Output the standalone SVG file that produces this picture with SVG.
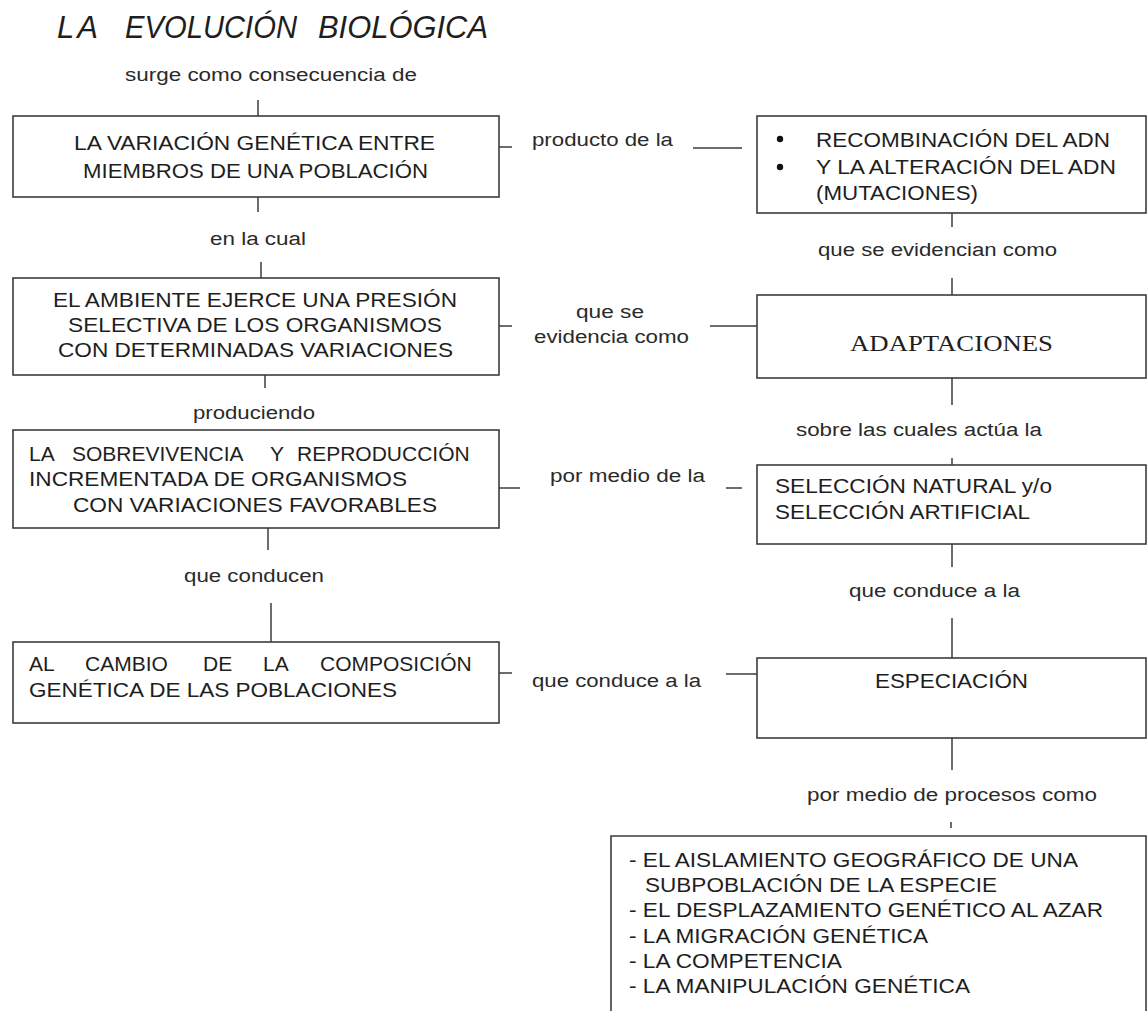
<svg xmlns="http://www.w3.org/2000/svg" width="1147" height="1011" viewBox="0 0 1147 1011">
<style>
.bg{fill:#ffffff}
.box{fill:#ffffff;stroke:#3c3c3c;stroke-width:1.6}
.con{fill:none;stroke:#3c3c3c;stroke-width:1.5}
.t{font-family:"Liberation Sans",Arial,sans-serif;font-size:21px;fill:#1e1e1e}
.lb{font-family:"Liberation Sans",Arial,sans-serif;font-size:18px;fill:#2a2a2a}
.li{font-family:"Liberation Sans",Arial,sans-serif;font-size:20px;fill:#1e1e1e}
.serif{font-family:"Liberation Serif","Times New Roman",serif;font-size:23px;fill:#1e1e1e}
.title{font-family:"Liberation Sans",Arial,sans-serif;font-size:31px;font-style:italic;fill:#1e1e1e}
</style>
<rect class="bg" x="0" y="0" width="1147" height="1011"/>

<g id="title">
<text class="title" y="38"><tspan x="57" letter-spacing="3">LA</tspan> <tspan x="125" textLength="172" lengthAdjust="spacingAndGlyphs">EVOLUCIÓN</tspan> <tspan x="318" textLength="170" lengthAdjust="spacingAndGlyphs">BIOLÓGICA</tspan></text>
</g>

<g id="connectors">
<line class="con" x1="258" y1="100" x2="258" y2="116"/>
<line class="con" x1="258" y1="197" x2="258" y2="212"/>
<line class="con" x1="261" y1="262" x2="261" y2="278"/>
<line class="con" x1="265" y1="375" x2="265" y2="388"/>
<line class="con" x1="268" y1="528" x2="268" y2="550"/>
<line class="con" x1="271" y1="603" x2="271" y2="642"/>
<line class="con" x1="499" y1="147" x2="512" y2="147"/>
<line class="con" x1="693" y1="148" x2="742" y2="148"/>
<line class="con" x1="499" y1="326" x2="512" y2="326"/>
<line class="con" x1="710" y1="326" x2="757" y2="326"/>
<line class="con" x1="499" y1="488" x2="520" y2="488"/>
<line class="con" x1="726" y1="488" x2="742" y2="488"/>
<line class="con" x1="499" y1="673" x2="512" y2="673"/>
<line class="con" x1="726" y1="674" x2="757" y2="674"/>
<line class="con" x1="952" y1="213" x2="952" y2="227"/>
<line class="con" x1="952" y1="278" x2="952" y2="295"/>
<line class="con" x1="952" y1="378" x2="952" y2="405"/>
<line class="con" x1="952" y1="458" x2="952" y2="465"/>
<line class="con" x1="952" y1="544" x2="952" y2="567"/>
<line class="con" x1="952" y1="618" x2="952" y2="658"/>
<line class="con" x1="952" y1="738" x2="952" y2="770"/>
<line class="con" x1="951" y1="822" x2="951" y2="828"/>
<text class="lb" x="125" y="81" textLength="292" lengthAdjust="spacingAndGlyphs">surge como consecuencia de</text>
<text class="lb" x="210" y="245" textLength="96" lengthAdjust="spacingAndGlyphs">en la cual</text>
<text class="lb" x="193" y="419" textLength="122" lengthAdjust="spacingAndGlyphs">produciendo</text>
<text class="lb" x="184" y="582" textLength="140" lengthAdjust="spacingAndGlyphs">que conducen</text>
<text class="lb" x="532" y="146" textLength="141" lengthAdjust="spacingAndGlyphs">producto de la</text>
<text class="lb" x="576" y="318" textLength="68" lengthAdjust="spacingAndGlyphs">que se</text>
<text class="lb" x="534" y="343" textLength="155" lengthAdjust="spacingAndGlyphs">evidencia como</text>
<text class="lb" x="550" y="482" textLength="155" lengthAdjust="spacingAndGlyphs">por medio de la</text>
<text class="lb" x="532" y="687" textLength="169" lengthAdjust="spacingAndGlyphs">que conduce a la</text>
<text class="lb" x="818" y="256" textLength="239" lengthAdjust="spacingAndGlyphs">que se evidencian como</text>
<text class="lb" x="796" y="436" textLength="246" lengthAdjust="spacingAndGlyphs">sobre las cuales actúa la</text>
<text class="lb" x="849" y="597" textLength="171" lengthAdjust="spacingAndGlyphs">que conduce a la</text>
<text class="lb" x="807" y="801" textLength="290" lengthAdjust="spacingAndGlyphs">por medio de procesos como</text>
</g>

<g id="variacion">
<rect class="box" x="13" y="116" width="486" height="81"/>
<text class="t" x="74" y="150" textLength="361" lengthAdjust="spacingAndGlyphs">LA VARIACIÓN GENÉTICA ENTRE</text>
<text class="t" x="83" y="178" textLength="345" lengthAdjust="spacingAndGlyphs">MIEMBROS DE UNA POBLACIÓN</text>
</g>

<g id="ambiente">
<rect class="box" x="13" y="278" width="486" height="97"/>
<text class="t" x="53" y="307" textLength="404" lengthAdjust="spacingAndGlyphs">EL AMBIENTE EJERCE UNA PRESIÓN</text>
<text class="t" x="68" y="332" textLength="374" lengthAdjust="spacingAndGlyphs">SELECTIVA DE LOS ORGANISMOS</text>
<text class="t" x="58" y="357" textLength="395" lengthAdjust="spacingAndGlyphs">CON DETERMINADAS VARIACIONES</text>
</g>

<g id="sobrevivencia">
<rect class="box" x="13" y="430" width="486" height="98"/>
<text class="t" y="461"><tspan x="29">LA</tspan> <tspan x="72">SOBREVIVENCIA</tspan> <tspan x="270">Y</tspan> <tspan x="297">REPRODUCCIÓN</tspan></text>
<text class="t" x="29" y="486" textLength="378" lengthAdjust="spacingAndGlyphs">INCREMENTADA DE ORGANISMOS</text>
<text class="t" x="73" y="512" textLength="364" lengthAdjust="spacingAndGlyphs">CON VARIACIONES FAVORABLES</text>
</g>

<g id="cambio">
<rect class="box" x="13" y="642" width="486" height="81"/>
<text class="t" y="671"><tspan x="29">AL</tspan> <tspan x="85">CAMBIO</tspan> <tspan x="203">DE</tspan> <tspan x="263">LA</tspan> <tspan x="320">COMPOSICIÓN</tspan></text>
<text class="t" x="29" y="697" textLength="368" lengthAdjust="spacingAndGlyphs">GENÉTICA DE LAS POBLACIONES</text>
</g>

<g id="recombinacion">
<rect class="box" x="757" y="116" width="389" height="97"/>
<circle cx="780" cy="139" r="3.2" fill="#111"/>
<circle cx="780" cy="167" r="3.2" fill="#111"/>
<text class="t" x="816" y="147" textLength="294" lengthAdjust="spacingAndGlyphs">RECOMBINACIÓN DEL ADN</text>
<text class="t" x="816" y="174" textLength="300" lengthAdjust="spacingAndGlyphs">Y LA ALTERACIÓN DEL ADN</text>
<text class="t" x="816" y="200" textLength="162" lengthAdjust="spacingAndGlyphs">(MUTACIONES)</text>
</g>

<g id="adaptaciones">
<rect class="box" x="757" y="295" width="389" height="83"/>
<text class="serif" x="850" y="351" textLength="203" lengthAdjust="spacingAndGlyphs">ADAPTACIONES</text>
</g>

<g id="seleccion">
<rect class="box" x="757" y="465" width="389" height="79"/>
<text class="t" x="775" y="493" textLength="277" lengthAdjust="spacingAndGlyphs">SELECCIÓN NATURAL y/o</text>
<text class="t" x="775" y="519" textLength="255" lengthAdjust="spacingAndGlyphs">SELECCIÓN ARTIFICIAL</text>
</g>

<g id="especiacion">
<rect class="box" x="757" y="658" width="389" height="80"/>
<text class="t" x="875" y="688" textLength="153" lengthAdjust="spacingAndGlyphs">ESPECIACIÓN</text>
</g>

<g id="procesos">
<path class="box" d="M611,1013 V836 H1146 V1013"/>
<text class="li" x="629" y="867" textLength="449" lengthAdjust="spacingAndGlyphs">- EL AISLAMIENTO GEOGRÁFICO DE UNA</text>
<text class="li" x="645" y="892" textLength="352" lengthAdjust="spacingAndGlyphs">SUBPOBLACIÓN DE LA ESPECIE</text>
<text class="li" x="629" y="917" textLength="474" lengthAdjust="spacingAndGlyphs">- EL DESPLAZAMIENTO GENÉTICO AL AZAR</text>
<text class="li" x="629" y="943" textLength="299" lengthAdjust="spacingAndGlyphs">- LA MIGRACIÓN GENÉTICA</text>
<text class="li" x="629" y="968" textLength="213" lengthAdjust="spacingAndGlyphs">- LA COMPETENCIA</text>
<text class="li" x="629" y="993" textLength="341" lengthAdjust="spacingAndGlyphs">- LA MANIPULACIÓN GENÉTICA</text>
</g>
</svg>
